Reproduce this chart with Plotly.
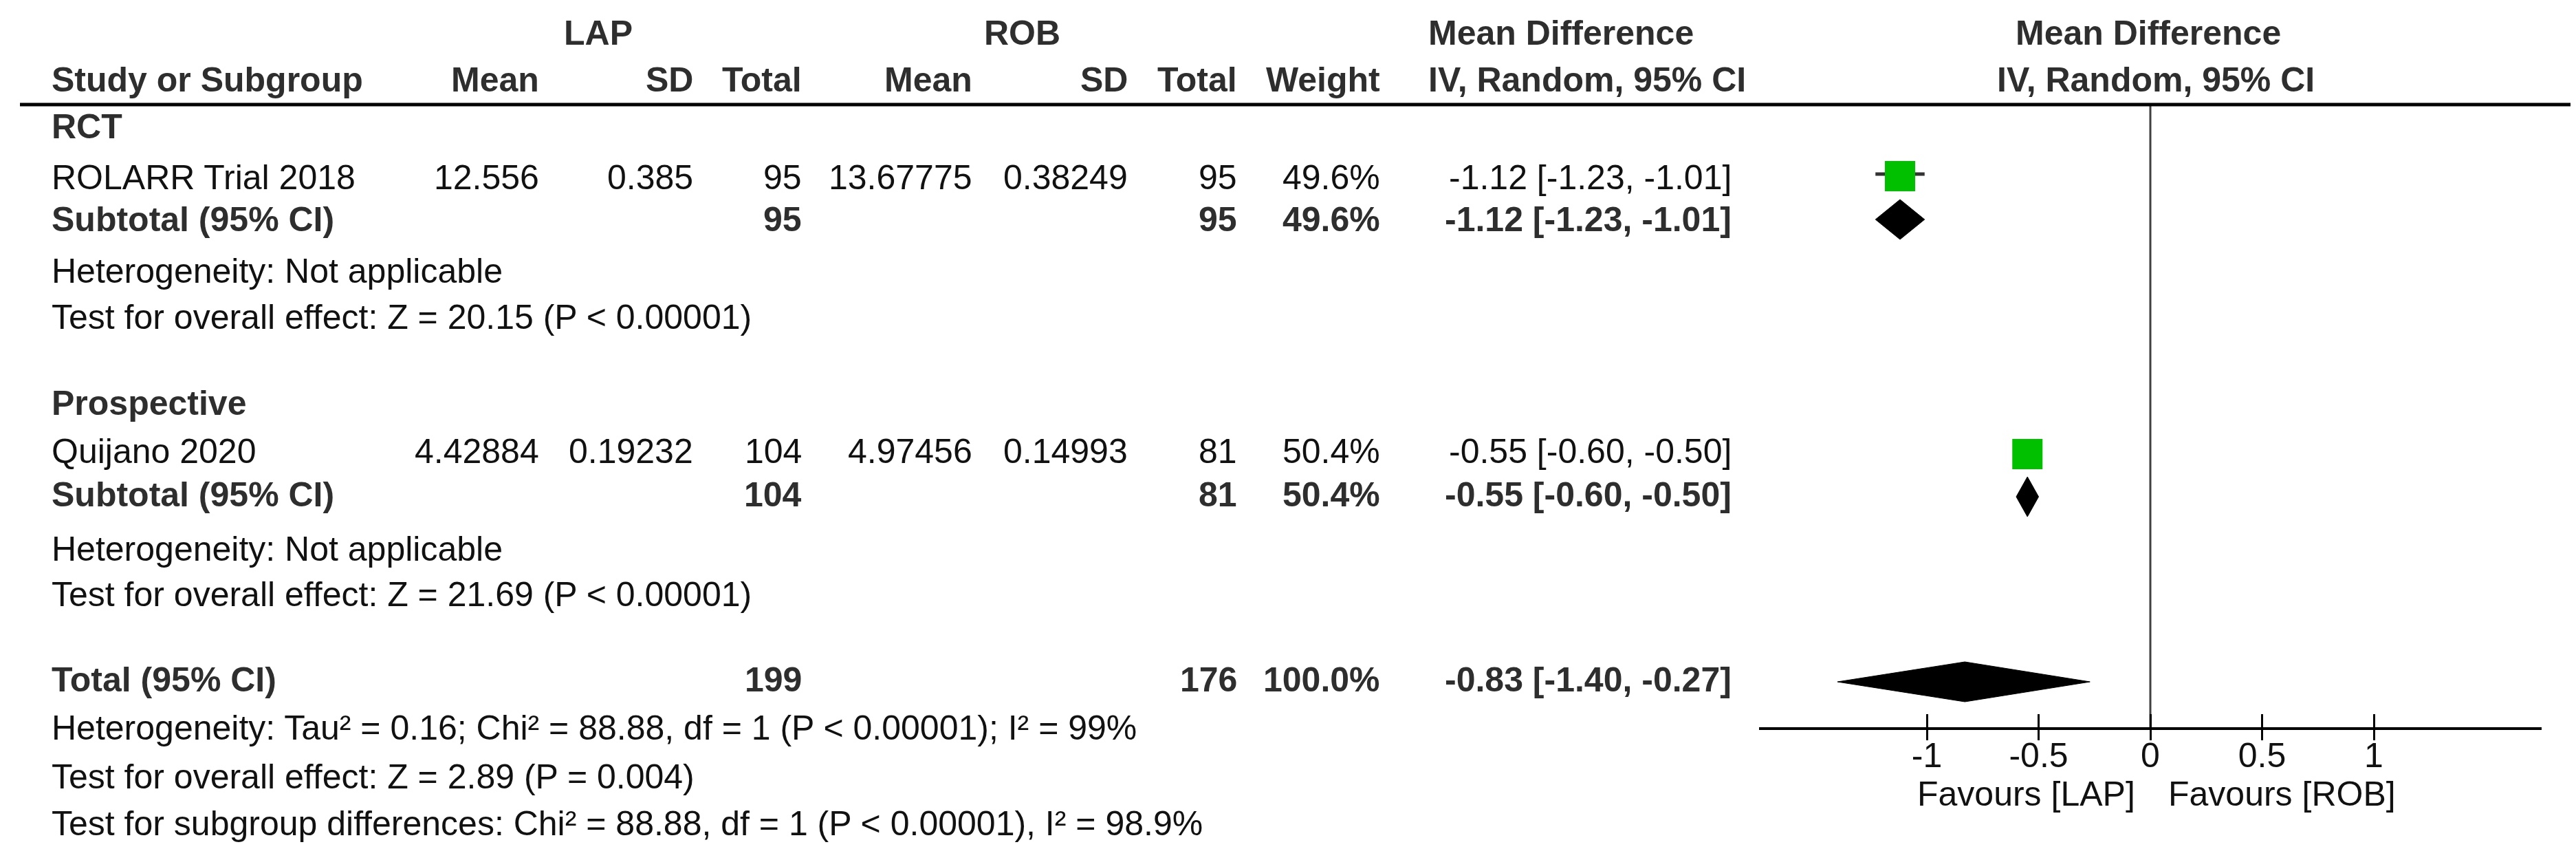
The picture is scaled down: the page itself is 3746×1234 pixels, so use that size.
import plotly.graph_objects as go

# ---------------- data ----------------
subgroups = ["RCT", "Prospective"]
studies = ["ROLARR Trial 2018", "Quijano 2020"]
lap_mean = [12.556, 4.42884]
lap_sd = [0.385, 0.19232]
lap_n = [95, 104]
rob_mean = [13.67775, 4.97456]
rob_sd = [0.38249, 0.14993]
rob_n = [95, 81]
weight = [49.6, 50.4]
md = [-1.12, -0.55]
md_lo = [-1.23, -0.60]
md_hi = [-1.01, -0.50]

sub_lap_n = [95, 104]
sub_rob_n = [95, 81]
sub_weight = [49.6, 50.4]
sub_md = [-1.12, -0.55]
sub_lo = [-1.23, -0.60]
sub_hi = [-1.01, -0.50]
sub_het = ["Heterogeneity: Not applicable", "Heterogeneity: Not applicable"]
sub_test = ["Test for overall effect: Z = 20.15 (P < 0.00001)",
            "Test for overall effect: Z = 21.69 (P < 0.00001)"]

total_lap_n = 199
total_rob_n = 176
total_weight = 100.0
total_md = -0.83
total_lo = -1.40
total_hi = -0.27
footer = ["Heterogeneity: Tau\u00b2 = 0.16; Chi\u00b2 = 88.88, df = 1 (P < 0.00001); I\u00b2 = 99%",
          "Test for overall effect: Z = 2.89 (P = 0.004)",
          "Test for subgroup differences: Chi\u00b2 = 88.88, df = 1 (P < 0.00001), I\u00b2 = 98.9%"]

tick_vals = [-1, -0.5, 0, 0.5, 1]
tick_text = ["-1", "-0.5", "0", "0.5", "1"]
favours = ["Favours [LAP]", "Favours [ROB]"]

# ---------------- layout constants (pixels) ----------------
W, H = 3746, 1234
FONT = "Liberation Sans, Arial, sans-serif"
FS = 50
BOLD_C = "#2e2e2e"
TXT_DY = -7   # text box centre vs. cap centre
COLX = dict(study=65, lap_mean=778, lap_sd=1002, lap_n=1160, rob_mean=1408,
            rob_sd=1634, rob_n=1793, weight=2001, ci=2512, ci_head=2067,
            forest1=3116, forest2=3127)
GROUP_Y = [dict(head=183, study=257, mark=248, sub=318, dia=311, het=393, test=460),
           dict(head=585, study=655, mark=652, sub=718, dia=714, het=797, test=863)]
TOTAL_Y, TOTAL_DIA = 987, 983
FOOT_Y = [1057, 1128, 1196]
HEAD1_Y, HEAD2_Y, LINE_Y = 47, 115, 144
AXIS_Y, FAV_Y = 1051, 1153
DIA_H = 29
ZERO_PX, UNIT_PX, HALF_RANGE = 3119, 325, 1.75
FOREST_DOM = [(ZERO_PX - UNIT_PX * HALF_RANGE) / W, (ZERO_PX + UNIT_PX * HALF_RANGE) / W]
FOREST_RANGE = [-HALF_RANGE, HALF_RANGE]

ann = []


def txt(x, y, s, anchor="left", bold=False):
    ann.append(dict(x=x / W, xref="paper", y=y + TXT_DY, yref="y",
                    text=f"<b>{s}</b>" if bold else s,
                    xanchor=anchor, yanchor="middle", showarrow=False,
                    font=dict(size=FS, family=FONT, color=BOLD_C if bold else "#111111")))


def ci(m, l, h):
    return f"{m:.2f} [{l:.2f}, {h:.2f}]"


# headers
txt(862, HEAD1_Y, "LAP", "center", True)
txt(1478, HEAD1_Y, "ROB", "center", True)
txt(COLX["ci_head"], HEAD1_Y, "Mean Difference", "left", True)
txt(COLX["forest1"], HEAD1_Y, "Mean Difference", "center", True)
txt(COLX["study"], HEAD2_Y, "Study or Subgroup", "left", True)
txt(COLX["lap_mean"], HEAD2_Y, "Mean", "right", True)
txt(COLX["lap_sd"], HEAD2_Y, "SD", "right", True)
txt(COLX["lap_n"], HEAD2_Y, "Total", "right", True)
txt(COLX["rob_mean"], HEAD2_Y, "Mean", "right", True)
txt(COLX["rob_sd"], HEAD2_Y, "SD", "right", True)
txt(COLX["rob_n"], HEAD2_Y, "Total", "right", True)
txt(COLX["weight"], HEAD2_Y, "Weight", "right", True)
txt(COLX["ci_head"], HEAD2_Y, "IV, Random, 95% CI", "left", True)
txt(COLX["forest2"], HEAD2_Y, "IV, Random, 95% CI", "center", True)

for i, g in enumerate(GROUP_Y):
    txt(COLX["study"], g["head"], subgroups[i], "left", True)
    txt(COLX["study"], g["study"], studies[i])
    txt(COLX["lap_mean"], g["study"], f"{lap_mean[i]}", "right")
    txt(COLX["lap_sd"], g["study"], f"{lap_sd[i]}", "right")
    txt(COLX["lap_n"], g["study"], f"{lap_n[i]}", "right")
    txt(COLX["rob_mean"], g["study"], f"{rob_mean[i]}", "right")
    txt(COLX["rob_sd"], g["study"], f"{rob_sd[i]}", "right")
    txt(COLX["rob_n"], g["study"], f"{rob_n[i]}", "right")
    txt(COLX["weight"], g["study"], f"{weight[i]:.1f}%", "right")
    txt(COLX["ci"], g["study"], ci(md[i], md_lo[i], md_hi[i]), "right")
    txt(COLX["study"], g["sub"], "Subtotal (95% CI)", "left", True)
    txt(COLX["lap_n"], g["sub"], f"{sub_lap_n[i]}", "right", True)
    txt(COLX["rob_n"], g["sub"], f"{sub_rob_n[i]}", "right", True)
    txt(COLX["weight"], g["sub"], f"{sub_weight[i]:.1f}%", "right", True)
    txt(COLX["ci"], g["sub"], ci(sub_md[i], sub_lo[i], sub_hi[i]), "right", True)
    txt(COLX["study"], g["het"], sub_het[i])
    txt(COLX["study"], g["test"], sub_test[i])

txt(COLX["study"], TOTAL_Y, "Total (95% CI)", "left", True)
txt(COLX["lap_n"], TOTAL_Y, f"{total_lap_n}", "right", True)
txt(COLX["rob_n"], TOTAL_Y, f"{total_rob_n}", "right", True)
txt(COLX["weight"], TOTAL_Y, f"{total_weight:.1f}%", "right", True)
txt(COLX["ci"], TOTAL_Y, ci(total_md, total_lo, total_hi), "right", True)
for s, y in zip(footer, FOOT_Y):
    txt(COLX["study"], y, s)

txt(3099, FAV_Y, favours[0], "right")
txt(3143, FAV_Y, favours[1], "left")

fig = go.Figure()

# zero line
fig.add_trace(go.Scatter(x=[0, 0], y=[LINE_Y, AXIS_Y], mode="lines",
                         line=dict(color="#404040", width=3), hoverinfo="skip", showlegend=False))

# study whiskers and squares
for i, g in enumerate(GROUP_Y):
    fig.add_trace(go.Scatter(x=[md_lo[i], md_hi[i]], y=[g["mark"] - 3, g["mark"] - 3], mode="lines",
                             line=dict(color="#333333", width=5), hoverinfo="skip", showlegend=False))
fig.add_trace(go.Scatter(x=md, y=[g["mark"] for g in GROUP_Y], mode="markers",
                         marker=dict(symbol="square", size=44, color="#00C000", line=dict(width=0)),
                         hoverinfo="skip", showlegend=False))


# diamonds
def diamond(m, l, h, y):
    fig.add_trace(go.Scatter(x=[l, m, h, m, l], y=[y, y - DIA_H, y, y + DIA_H, y],
                             mode="lines", fill="toself", fillcolor="black",
                             line=dict(color="black", width=1), hoverinfo="skip", showlegend=False))


for i, g in enumerate(GROUP_Y):
    diamond(sub_md[i], sub_lo[i], sub_hi[i], g["dia"])
diamond(total_md, total_lo, total_hi, TOTAL_DIA)

# overlay axis trace for downward ticks
fig.add_trace(go.Scatter(x=tick_vals, y=[None] * len(tick_vals), xaxis="x2", mode="markers",
                         hoverinfo="skip", showlegend=False))

axis_pos = 1 - AXIS_Y / H
fig.update_layout(
    width=W, height=H,
    margin=dict(l=0, r=0, t=0, b=0),
    paper_bgcolor="white", plot_bgcolor="white",
    font=dict(family=FONT, size=FS, color="black"),
    showlegend=False,
    annotations=ann,
    shapes=[dict(type="line", xref="paper", yref="y", x0=21 / W, x1=3743 / W,
                 y0=LINE_Y, y1=LINE_Y, line=dict(color="black", width=5))],
    xaxis=dict(domain=FOREST_DOM, range=FOREST_RANGE, anchor="free", position=axis_pos,
               showline=True, linewidth=4, linecolor="black",
               ticks="inside", ticklen=19, tickwidth=3, tickcolor="black",
               tickvals=tick_vals, ticktext=tick_text, ticklabelstandoff=-6,
               tickfont=dict(size=FS, family=FONT, color="#111111"),
               showgrid=False, zeroline=False, fixedrange=True),
    xaxis2=dict(domain=FOREST_DOM, range=FOREST_RANGE, overlaying="x", anchor="free",
                position=axis_pos, showline=False, ticks="outside", ticklen=16, tickwidth=3,
                tickcolor="black", tickvals=tick_vals, showticklabels=False,
                showgrid=False, zeroline=False, fixedrange=True),
    yaxis=dict(domain=[0, 1], range=[H, 0], visible=False, fixedrange=True),
)

fig.write_html("out.html")
